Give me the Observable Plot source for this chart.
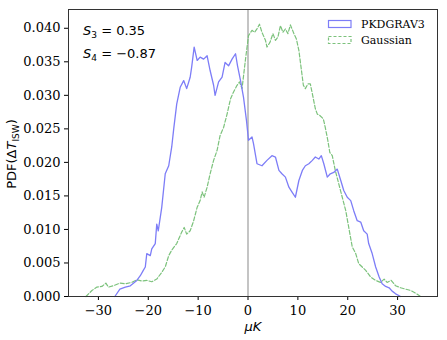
<!DOCTYPE html>
<html><head><meta charset="utf-8">
<script src="https://cdn.jsdelivr.net/npm/d3@7"></script>
<script src="https://cdn.jsdelivr.net/npm/@observablehq/plot@0.6"></script>
<style>
body{margin:0;background:#fff}
#chart g[aria-label$="tick label"], #chart g[aria-label$="tick label"] text {font-family: "DejaVu Serif" !important; font-size: 13px !important;}
</style>
</head><body><div id="chart"></div>
<script>
const seriesNames = ["PKDGRAV3", "Gaussian"];
const pkdX = [-26.7,-25.7,-24.6,-23.6,-22.3,-21.6,-21.0,-20.6,-20.3,-19.6,-19.3,-18.6,-18.3,-18.0,-17.3,-16.6,-15.9,-15.3,-14.9,-14.3,-13.6,-12.9,-12.3,-11.6,-11.3,-10.8,-10.2,-9.6,-8.9,-8.2,-7.6,-6.9,-6.6,-5.9,-5.2,-4.6,-3.9,-3.2,-2.5,-2.1,-1.5,-0.9,-0.3,0.1,0.8,1.1,1.8,2.8,3.8,4.8,5.5,6.2,6.8,7.5,8.2,8.8,9.5,10.2,10.9,11.5,12.2,12.9,13.5,14.2,14.7,15.2,15.9,16.5,17.2,17.9,18.6,19.2,19.9,20.6,21.2,21.9,22.6,23.2,23.9,24.2,24.9,25.6,26.3,26.9,27.6,28.3,28.9,29.6,30.6];
const pkdY = [0,0.0011,0.0014,0.0016,0.0024,0.0031,0.0039,0.0044,0.0064,0.0061,0.0071,0.0079,0.0108,0.0098,0.0133,0.0183,0.0195,0.0223,0.025,0.0287,0.0312,0.0322,0.031,0.0327,0.0342,0.0372,0.0352,0.0357,0.0354,0.0359,0.0337,0.0315,0.030,0.032,0.0327,0.0349,0.0344,0.0354,0.0362,0.0344,0.0322,0.0297,0.0262,0.0233,0.0238,0.0228,0.0198,0.0195,0.0203,0.021,0.0208,0.0188,0.0183,0.0178,0.0163,0.0156,0.0148,0.0173,0.0188,0.0195,0.0198,0.0203,0.0208,0.0205,0.021,0.0198,0.0178,0.0183,0.0185,0.019,0.0173,0.0158,0.0148,0.0143,0.0128,0.0113,0.0111,0.0098,0.0093,0.0079,0.0064,0.0044,0.0029,0.0019,0.0015,0.0013,0.0008,0.0004,0];
const gauX = [-32.5,-31.3,-30.3,-29.3,-28.5,-28.0,-27.0,-25.7,-24.6,-23.3,-22.3,-21.3,-20.3,-19.3,-18.3,-17.3,-16.6,-15.9,-15.3,-14.3,-13.3,-12.8,-12.3,-11.6,-10.9,-10.2,-9.6,-9.2,-8.8,-8.2,-7.6,-6.9,-6.2,-5.6,-4.9,-4.2,-3.5,-2.9,-2.2,-1.7,-1.2,-0.5,0.1,0.8,1.3,1.8,2.3,2.8,3.5,3.8,4.4,5.0,5.5,6.0,6.5,7.0,7.5,8.0,8.5,9.2,9.7,10.2,10.6,11.1,11.5,12.0,12.5,13.1,13.5,13.9,14.4,15.1,15.5,16.0,16.4,16.9,17.5,18.2,18.9,19.6,20.2,20.9,21.6,22.2,22.9,23.6,24.6,25.6,26.6,27.3,27.9,28.7,29.6,30.6,31.6,32.6,33.6,34.6];
const gauY = [0,0.0009,0.0014,0.0015,0.002,0.0014,0.0016,0.002,0.0019,0.0021,0.0025,0.0023,0.0024,0.0022,0.0026,0.0036,0.0044,0.0061,0.0069,0.0079,0.0096,0.0103,0.0093,0.0098,0.0113,0.0133,0.0143,0.0156,0.0148,0.0163,0.0183,0.0203,0.0218,0.024,0.0252,0.0272,0.0295,0.0305,0.0315,0.032,0.031,0.0354,0.0389,0.0397,0.0394,0.0399,0.0406,0.0394,0.0382,0.0372,0.0379,0.0392,0.0382,0.0387,0.0404,0.0394,0.0399,0.0392,0.0405,0.0392,0.0384,0.0367,0.0344,0.0315,0.031,0.0317,0.0317,0.0295,0.028,0.0272,0.027,0.0265,0.0252,0.0233,0.0215,0.021,0.0188,0.0168,0.0148,0.0128,0.0103,0.0074,0.0064,0.0049,0.0044,0.0039,0.0029,0.0024,0.0021,0.0026,0.0021,0.0024,0.0016,0.0013,0.0011,0.0009,0.0005,0];
const xTicks = [-30,-20,-10,0,10,20,30];
const yTicks = [0,0.005,0.010,0.015,0.020,0.025,0.030,0.035,0.040];
const annotations = ["0.35", "\u22120.87"];

const pkd = pkdX.map((x, i) => ({x, y: pkdY[i]}));
const gau = gauX.map((x, i) => ({x, y: gauY[i]}));
const colors = ["#7d7df7", "#7cc27c"];
const fmtX = d => d < 0 ? "\u2212" + Math.abs(d) : String(d);

const svg = Plot.plot({
  width: 447, height: 340,
  marginLeft: 68, marginRight: 10, marginTop: 9, marginBottom: 44,
  style: {fontFamily: "DejaVu Serif", fontSize: "13px", color: "#000", background: "#fff"},
  x: {domain: [-36, 38], ticks: xTicks, label: null, tickFormat: fmtX},
  y: {domain: [0, 0.0428], ticks: yTicks, label: null, tickFormat: d3.format(".3f")},
  marks: [
    Plot.ruleX([0], {stroke: "#c4c4c4", strokeWidth: 2}),
    Plot.line(gau, {x: "x", y: "y", stroke: colors[1], strokeWidth: 1.2, strokeDasharray: "4,2"}),
    Plot.line(pkd, {x: "x", y: "y", stroke: colors[0], strokeWidth: 1.3}),
    Plot.axisX({ticks: xTicks, tickSize: 4, tickPadding: 5, stroke: "#000", tickFormat: fmtX, label: null, fontFamily: "DejaVu Serif", fontSize: 13}),
    Plot.axisY({ticks: yTicks, tickSize: 4, tickPadding: 4, stroke: "#000", tickFormat: d3.format(".3f"), label: null, fontFamily: "DejaVu Serif", fontSize: 13}),
    Plot.frame({stroke: "#333", strokeWidth: 1})
  ]
});
document.getElementById("chart").appendChild(svg);

const s = d3.select(svg);
// y label
const yl = s.append("text").attr("transform", "translate(16,154) rotate(-90)")
  .attr("text-anchor", "middle").style("font-family", "'DejaVu Sans'").style("font-size", "13px").attr("fill", "#000");
yl.append("tspan").text("PDF(\u0394");
yl.append("tspan").attr("font-style", "italic").text("T");
yl.append("tspan").style("font-size", "9px").attr("dy", 3).text("ISW");
yl.append("tspan").attr("dy", -3).text(")");
// x label
s.append("text").attr("x", 253).attr("y", 331).attr("text-anchor", "middle")
  .style("font-family", "'DejaVu Sans'").style("font-size", "13px").attr("font-style", "italic").attr("fill", "#000").text("\u03bcK");
// annotations
[["3", annotations[0], 34.5], ["4", annotations[1], 58]].forEach(([k, v, yb]) => {
  const t = s.append("text").attr("x", 83).attr("y", yb).attr("text-anchor", "start")
    .style("font-family", "'DejaVu Sans'").style("font-size", "13px").attr("fill", "#000");
  t.append("tspan").attr("font-style", "italic").text("S");
  t.append("tspan").style("font-size", "9px").attr("dy", 3).text(k);
  t.append("tspan").attr("dy", -3).text(" = " + v);
});
// legend
seriesNames.forEach((name, i) => {
  const y0 = 20.5 + i * 16;
  s.append("rect").attr("x", 328.5).attr("y", y0).attr("width", 22.5).attr("height", 7)
    .attr("fill", "none").attr("stroke", colors[i]).attr("stroke-width", 1.2)
    .attr("stroke-dasharray", i === 1 ? "3,2" : null);
  s.append("text").attr("x", 361).attr("y", y0 + 7.5).attr("text-anchor", "start")
    .style("font-family", "'DejaVu Serif'").style("font-size", "11px").attr("fill", "#000").text(name);
});
</script></body></html>
